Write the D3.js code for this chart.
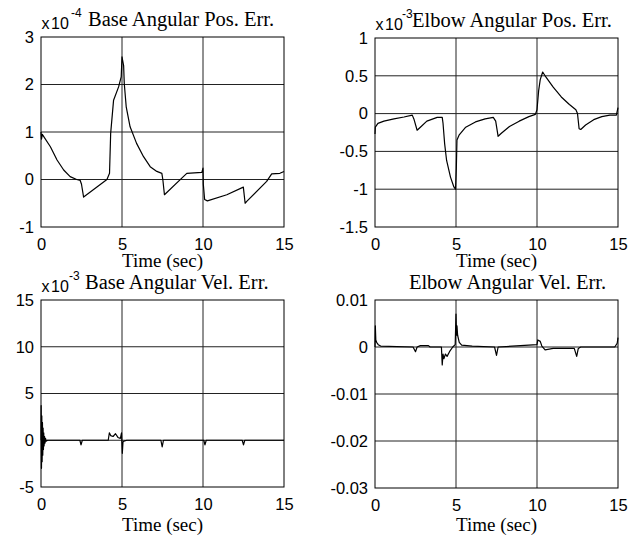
<!DOCTYPE html>
<html>
<head>
<meta charset="utf-8">
<script src="https://cdn.jsdelivr.net/npm/d3@7"></script>
<style>
  body { margin: 0; background: #fff; }
  svg { display: block; }
</style>
</head>
<body>
<div class="canvas"></div>
<script>
// time axis shared by all four panels
const timeTicks = [0, 5, 10, 15];

// base angular position error (x 1e-4)
const basePosT = [0, 0.03, 0.08, 0.58, 0.99, 1.4, 1.8, 2.2, 2.42, 2.5, 2.63, 4.07, 4.23, 4.3, 4.48, 4.79, 4.95, 5.0, 5.1, 5.14, 5.26, 5.5, 5.9, 6.33, 6.74, 7.15, 7.46, 7.52, 7.62, 8.69, 9.0, 9.93, 10.0, 10.02, 10.1, 10.27, 11.47, 12.49, 12.6, 12.7, 13.93, 14.24, 14.75, 15];
const basePosV = [1.0, 0.85, 0.95, 0.69, 0.41, 0.2, 0.06, 0, -0.02, -0.1, -0.37, 0, 0.13, 0.97, 1.67, 1.95, 2.16, 2.58, 2.4, 2.02, 1.53, 1.11, 0.76, 0.48, 0.27, 0.17, 0.13, 0, -0.32, 0.03, 0.13, 0.15, 0.24, -0.1, -0.42, -0.45, -0.32, -0.16, -0.5, -0.46, -0.04, 0.12, 0.13, 0.17];
const basePosTicks = [-1, 0, 1, 2, 3];

// elbow angular position error (x 1e-3)
const elbowPosT = [0, 0.02, 0.18, 0.55, 1.17, 1.79, 2.3, 2.4, 2.6, 2.8, 3.2, 3.84, 4.15, 4.2, 4.3, 4.42, 4.66, 4.87, 4.97, 5.02, 5.06, 5.2, 5.6, 6.2, 6.8, 7.3, 7.45, 7.6, 7.8, 8.3, 8.9, 9.5, 9.9, 10.0, 10.1, 10.2, 10.35, 10.5, 11, 11.5, 12, 12.4, 12.5, 12.6, 12.7, 13, 13.5, 14, 14.5, 14.9, 15];
const elbowPosV = [-0.27, -0.18, -0.13, -0.1, -0.07, -0.045, -0.02, -0.07, -0.22, -0.18, -0.1, -0.05, -0.05, -0.13, -0.4, -0.62, -0.84, -0.97, -1.0, -0.72, -0.35, -0.28, -0.18, -0.11, -0.07, -0.05, -0.1, -0.3, -0.26, -0.17, -0.1, -0.04, -0.01, 0.05, 0.3, 0.45, 0.55, 0.5, 0.35, 0.22, 0.12, 0.05, 0, -0.2, -0.21, -0.15, -0.08, -0.04, -0.02, -0.02, 0.08];
const elbowPosTicks = [-1.5, -1, -0.5, 0, 0.5, 1];

// base angular velocity error (x 1e-3)
const baseVelT = [0, 0.01, 0.03, 0.05, 0.07, 0.09, 0.11, 0.13, 0.15, 0.17, 0.19, 0.22, 0.25, 0.28, 0.32, 0.4, 2.4, 2.47, 2.55, 4.15, 4.22, 4.3, 4.45, 4.6, 4.75, 4.9, 4.97, 5.02, 5.06, 5.12, 5.3, 7.4, 7.48, 7.56, 10.05, 10.12, 10.2, 12.42, 12.5, 12.58, 15];
const baseVelV = [0, 3.7, -3.0, 2.6, -2.3, 1.9, -1.6, 1.3, -1.0, 0.8, -0.6, 0.4, -0.3, 0.2, -0.1, 0, 0, -0.5, 0, 0, 0.8, 0.5, 0.4, 0.7, 0.3, 0.2, 0.8, -1.4, -0.2, -0.1, 0, 0, -0.7, 0, 0, -0.5, 0, 0, -0.5, 0, 0];
const baseVelTicks = [-5, 0, 5, 10, 15];

// elbow angular velocity error
const elbowVelT = [0, 0.02, 0.05, 0.1, 0.2, 0.35, 2.35, 2.5, 2.6, 2.8, 3.3, 3.4, 4.1, 4.15, 4.2, 4.25, 4.35, 4.45, 4.6, 4.8, 4.95, 5.0, 5.03, 5.06, 5.1, 5.2, 5.35, 6.0, 7.38, 7.5, 7.6, 10.0, 10.05, 10.2, 10.3, 10.5, 11, 12.3, 12.45, 12.55, 12.7, 13, 14.8, 14.95, 15];
const elbowVelV = [0, 0.0045, 0.0015, 0.001, 0.0005, 0.0002, 0, -0.001, 0, 0.0003, 0.0003, 0, 0, -0.0038, -0.0015, -0.0025, -0.0015, -0.002, -0.001, 0, 0.0005, 0.007, 0.0025, 0.0045, 0.0025, 0.001, 0.0004, 0.0002, 0, -0.0018, 0, 0.0005, 0.0015, 0.0012, 0.0002, -0.0006, -0.0003, -0.0003, -0.002, -0.0003, 0, 0, 0, 0.0008, 0.002];
const elbowVelTicks = [-0.03, -0.02, -0.01, 0, 0.01];

const svg = d3.select('.canvas')
  .append('svg')
    .attr('width', 642)
    .attr('height', 537);

const SERIF = '"Liberation Serif", "Times New Roman", serif';
const SANS = '"Liberation Sans", Arial, sans-serif';

// one panel = frame, grid, tick labels, curve, titles
function drawPanel(p) {
  const w = p.right - p.left;
  const h = p.bottom - p.top;
  const g = svg.append('g').attr('transform', `translate(${p.left}, ${p.top})`);

  const x = d3.scaleLinear().domain([0, 15]).range([0, w]);
  const y = d3.scaleLinear().domain(d3.extent(p.yTicks)).range([h, 0]);

  // grid lines (inner ticks only)
  g.selectAll('.vgrid')
    .data(timeTicks.slice(1, -1))
    .enter().append('line')
      .attr('x1', d => x(d)).attr('x2', d => x(d))
      .attr('y1', 0).attr('y2', h)
      .attr('stroke', '#222').attr('stroke-width', 1);
  g.selectAll('.hgrid')
    .data(p.yTicks.slice(1, -1))
    .enter().append('line')
      .attr('x1', 0).attr('x2', w)
      .attr('y1', d => y(d)).attr('y2', d => y(d))
      .attr('stroke', '#222').attr('stroke-width', 1);

  // curve
  const pts = p.t.map((t, i) => [t, p.v[i]]);
  g.append('path')
    .datum(pts)
    .attr('fill', 'none')
    .attr('stroke', '#000')
    .attr('stroke-width', 1.2)
    .attr('stroke-linejoin', 'round')
    .attr('d', d3.line().x(d => x(d[0])).y(d => y(d[1])));

  // frame
  g.append('rect')
    .attr('width', w).attr('height', h)
    .attr('fill', 'none').attr('stroke', '#000').attr('stroke-width', 1);

  // axes, labels only
  const yAxis = d3.axisLeft(y).tickValues(p.yTicks).tickSize(0).tickPadding(7)
    .tickFormat(d => String(d));
  const xAxis = d3.axisBottom(x).tickValues(timeTicks).tickSize(0).tickPadding(11);

  const yg = g.append('g').call(yAxis);
  const xg = g.append('g').attr('transform', `translate(0, ${h})`).call(xAxis);
  [yg, xg].forEach(a => {
    a.select('.domain').remove();
    a.selectAll('text')
      .attr('font-family', SANS)
      .attr('font-size', 16.5)
      .attr('fill', '#000');
  });

  // x label
  g.append('text')
    .attr('x', w / 2).attr('y', h + p.xlabelGap)
    .attr('text-anchor', 'middle')
    .attr('font-family', SERIF).attr('font-size', 19)
    .text('Time (sec)');

  // exponent label + title
  if (p.exp) {
    g.append('text')
      .attr('x', 0.5).attr('y', -8)
      .attr('font-family', SANS).attr('font-size', 16)
      .text('x');
    g.append('text')
      .attr('x', 10).attr('y', -8)
      .attr('font-family', SANS).attr('font-size', 16)
      .text('10');
    g.append('text')
      .attr('x', p.expX).attr('y', -20)
      .attr('font-family', SANS).attr('font-size', 12)
      .text(p.exp);
    g.append('text')
      .attr('x', p.titleX).attr('y', -11.5)
      .attr('font-family', SERIF).attr('font-size', 20.5)
      .text(p.title);
  } else {
    g.append('text')
      .attr('x', w / 2 + 11).attr('y', -11)
      .attr('text-anchor', 'middle')
      .attr('font-family', SERIF).attr('font-size', 20.5)
      .text(p.title);
  }
}

drawPanel({left: 41, right: 284, top: 37, bottom: 227, t: basePosT, v: basePosV, yTicks: basePosTicks,
  exp: '-4', expX: 30, title: 'Base Angular Pos. Err.', titleX: 47, xlabelGap: 40});
drawPanel({left: 375, right: 618, top: 38, bottom: 227, t: elbowPosT, v: elbowPosV, yTicks: elbowPosTicks,
  exp: '-3', expX: 27, title: 'Elbow Angular Pos. Err.', titleX: 37, xlabelGap: 40});
drawPanel({left: 41, right: 284, top: 300, bottom: 487, t: baseVelT, v: baseVelV, yTicks: baseVelTicks,
  exp: '-3', expX: 28, title: 'Base Angular Vel. Err.', titleX: 44, xlabelGap: 44});
drawPanel({left: 375, right: 618, top: 300, bottom: 488, t: elbowVelT, v: elbowVelV, yTicks: elbowVelTicks,
  exp: null, title: 'Elbow Angular Vel. Err.', xlabelGap: 43});
</script>
</body>
</html>
